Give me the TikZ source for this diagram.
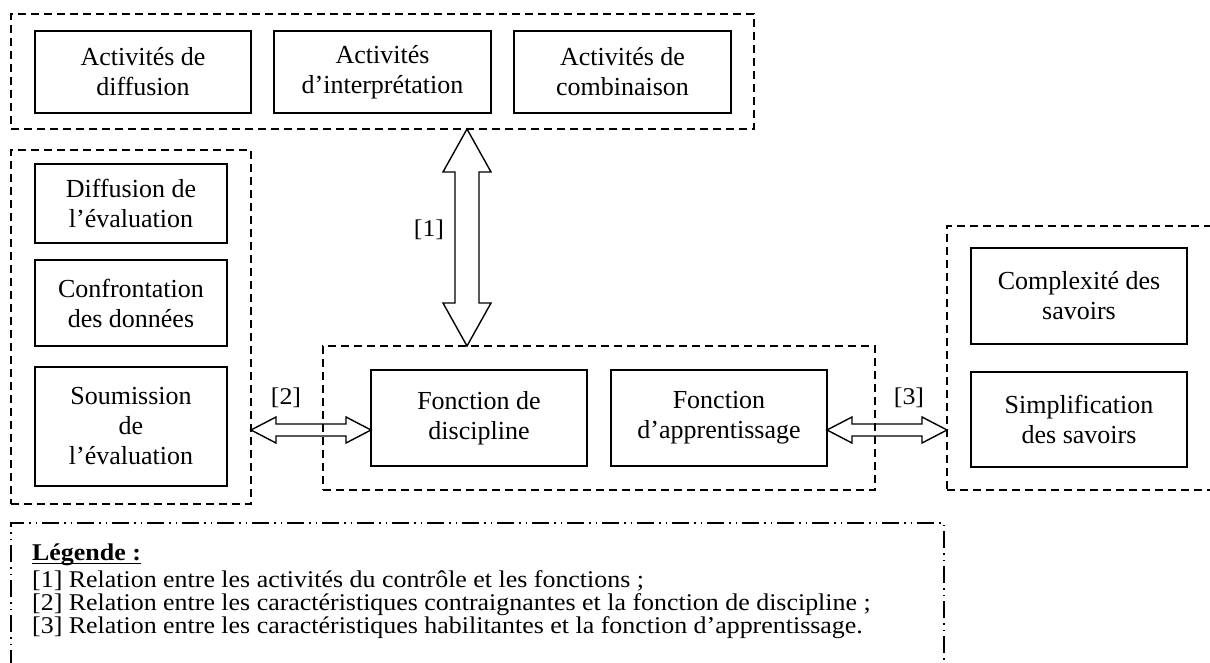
\documentclass[tikz,border=0pt]{standalone}
\usepackage{fontspec}
\setmainfont{Liberation Serif}
\newfontfamily\legfont[FakeStretch=1.08]{Liberation Serif}
\usetikzlibrary{calc}
\begin{document}
\begin{tikzpicture}[x=1pt,y=1pt,
  box/.style={draw, line width=1.6pt, align=center, inner sep=0pt, outer sep=0pt, font=\fontsize{26}{30}\selectfont},
  grp/.style={draw, line width=1.3pt, dash pattern=on 8pt off 5pt, inner sep=0pt, outer sep=0pt},
  leggrp/.style={draw, line width=1.3pt, dash pattern=on 17pt off 5pt on 1.5pt off 5pt on 1.5pt off 5pt, inner sep=0pt, outer sep=0pt},
  blockarrow/.style={draw, line width=1.4pt, line join=miter},
  lbl/.style={font=\legfont\fontsize{24}{25}\selectfont, inner sep=0pt},
  legtxt/.style={anchor=base west, font=\legfont\fontsize{24}{23}\selectfont, inner sep=0pt}
]
\useasboundingbox (0,0) rectangle (1210,-663);

% groups
\node[grp, minimum width=743, minimum height=115] (topgrp) at (382.5,-71.5) {};
\node[grp, minimum width=240, minimum height=354] (leftgrp) at (131,-327) {};
\node[grp, minimum width=552, minimum height=144] (midgrp) at (599,-418) {};
\node[grp, minimum width=293, minimum height=264] (rightgrp) at (1093.5,-358) {};
\node[leggrp, minimum width=933, minimum height=177] (leggrp) at (477.5,-611.5) {};

% top boxes
\node[box, minimum width=216, minimum height=82] (act1) at (143,-72) {Activités de\\diffusion};
\node[box, minimum width=217, minimum height=82] (act2) at (382.5,-72) {Activités\\d’interprétation};
\node[box, minimum width=217, minimum height=82] (act3) at (622.5,-72) {Activités de\\combinaison};

% left boxes
\node[box, minimum width=192, minimum height=79] (diff) at (131,-203.5) {Diffusion de\\l’évaluation};
\node[box, minimum width=192, minimum height=86] (conf) at (131,-303) {Confrontation\\des données};
\node[box, minimum width=192, minimum height=119] (soum) at (131,-426.5) {Soumission\\de\\l’évaluation};

% middle boxes
\node[box, minimum width=216, minimum height=96] (fdisc) at (479,-418) {Fonction de\\discipline};
\node[box, minimum width=216, minimum height=96] (fapp) at (719,-418) {Fonction\\d’apprentissage};

% right boxes
\node[box, minimum width=216, minimum height=96] (comp) at (1079,-296) {Complexité des\\savoirs};
\node[box, minimum width=216, minimum height=95] (simp) at (1079,-419.5) {Simplification\\des savoirs};

% arrow [1]
\coordinate (a1x) at (467,0);
\coordinate (a1t) at (topgrp.south -| a1x);
\coordinate (a1b) at (midgrp.north -| a1x);
\draw[blockarrow] (a1t) -- ++(24,-43) -- ++(-12,0) -- ($(a1b)+(12,43)$) -- ++(12,0) -- (a1b)
  -- ++(-24,43) -- ++(12,0) -- ($(a1t)+(-12,-43)$) -- ++(-12,0) -- cycle;
\node[lbl] (l1) at (429,-230) {[1]};

% arrow [2]
\coordinate (ay) at (0,-430);
\coordinate (a2l) at (leftgrp.east |- ay);
\coordinate (a2r) at (fdisc.west |- ay);
\draw[blockarrow] (a2l) -- ++(25,13) -- ++(0,-7) -- ($(a2r)+(-25,6)$) -- ++(0,7) -- (a2r)
  -- ++(-25,-13) -- ++(0,7) -- ($(a2l)+(25,-6)$) -- ++(0,-7) -- cycle;
\node[lbl] (l2) at (286,-398) {[2]};

% arrow [3]
\coordinate (a3l) at (fapp.east |- ay);
\coordinate (a3r) at (rightgrp.west |- ay);
\draw[blockarrow] (a3l) -- ++(25,13) -- ++(0,-7) -- ($(a3r)+(-25,6)$) -- ++(0,7) -- (a3r)
  -- ++(-25,-13) -- ++(0,7) -- ($(a3l)+(25,-6)$) -- ++(0,-7) -- cycle;
\node[lbl] (l3) at (909,-398) {[3]};

% legend
\node[legtxt] (leg0) at (32,-560) {\textbf{Légende :}};
\draw[line width=1.4pt] ($(leg0.base west)+(0,-3.5)$) -- ($(leg0.base east)+(0,-3.5)$);
\node[legtxt] (leg1) at (32,-587) {[1] Relation entre les activités du contrôle et les fonctions ;};
\node[legtxt] (leg2) at (32,-610) {[2] Relation entre les caractéristiques contraignantes et la fonction de discipline ;};
\node[legtxt] (leg3) at (32,-633) {[3] Relation entre les caractéristiques habilitantes et la fonction d’apprentissage.};
\end{tikzpicture}
\end{document}
